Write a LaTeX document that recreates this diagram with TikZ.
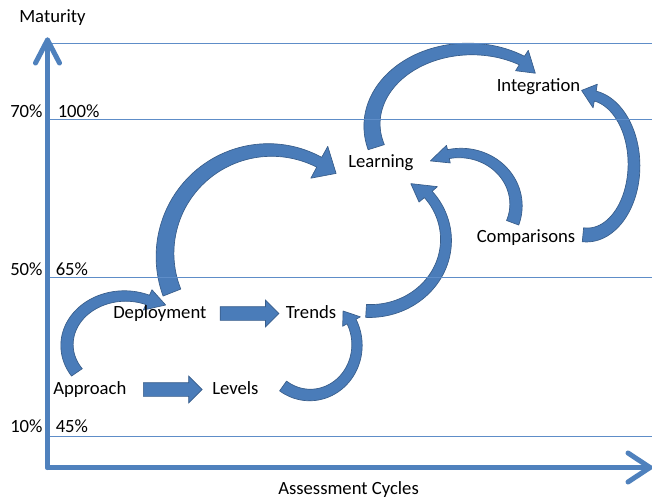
\documentclass[tikz,border=0pt]{standalone}
\usepackage{fontspec}
\setmainfont{Carlito}
\usetikzlibrary{shapes.arrows}
\definecolor{acc}{HTML}{4F81BD}
\definecolor{accfill}{HTML}{4A7CB9}
\definecolor{accdark}{HTML}{385D8A}
\definecolor{gridc}{HTML}{5E8DC8}
\pgfkeys{/carr/.is family, /carr,
  cx/.store in=\Ccx, cy/.store in=\Ccy,
  rx/.store in=\Crx, ry/.store in=\Cry,
  a/.store in=\Ca, b/.store in=\Cb,
  wt/.store in=\Cwt, we/.store in=\Cwe,
  hw/.store in=\Chw, d/.store in=\Cd,
  o/.store in=\Co, rot/.store in=\Crot}
\newcommand\curvedarrow[1]{%
  \pgfkeys{/carr, o=0, rot=0, #1}%
  \begin{scope}[shift={(\Ccx,\Ccy)}, rotate=\Crot]
    \filldraw[curvy] plot[domain=0:1, samples=60, variable=\cv]
      ({((\Crx)+((\Cwt)+((\Cwe)-(\Cwt))*\cv)/2)*cos((\Ca)+((\Cb)-(\Ca))*\cv)},
       {((\Cry)+((\Cwt)+((\Cwe)-(\Cwt))*\cv)/2)*sin((\Ca)+((\Cb)-(\Ca))*\cv)})
      -- ({((\Crx)+(\Chw))*cos(\Cb)}, {((\Cry)+(\Chw))*sin(\Cb)})
      -- ({((\Crx)+(\Co))*cos((\Cb)+(\Cd))}, {((\Cry)+(\Co))*sin((\Cb)+(\Cd))})
      -- ({((\Crx)-(\Chw))*cos(\Cb)}, {((\Cry)-(\Chw))*sin(\Cb)})
      -- plot[domain=0:1, samples=60, variable=\cv]
      ({((\Crx)-((\Cwe)+((\Cwt)-(\Cwe))*\cv)/2)*cos((\Cb)+((\Ca)-(\Cb))*\cv)},
       {((\Cry)-((\Cwe)+((\Cwt)-(\Cwe))*\cv)/2)*sin((\Cb)+((\Ca)-(\Cb))*\cv)})
      -- cycle;
  \end{scope}}
\tikzset{
  curvy/.style={fill=accfill, draw=accdark, line width=0.5pt, line join=round},
  axis/.style={draw=acc, line width=3.75pt, line cap=round, line join=round},
  gridline/.style={draw=gridc, line width=0.75pt},
  txt/.style={anchor=base west, inner sep=0pt, text height=9.5pt, text depth=2.8pt, font=\fontsize{14}{17}\selectfont},
  blockarr/.style={single arrow, draw=accdark, fill=accfill, line width=0.5pt,
    minimum height=44pt, minimum width=19.5pt, single arrow head extend=4.875pt,
    single arrow head indent=0pt, inner xsep=0pt, inner ysep=4.875pt,
    text height=0pt, text depth=0pt}
}
\begin{document}
\begin{tikzpicture}[x=0.75pt, y=-0.75pt]
\useasboundingbox (0,0) rectangle (652,499);
\fill[white] (0,0) rectangle (652,499);

% curved arrows
\curvedarrow{cx=125, cy=345, rx=58, ry=49, a=146, b=293, wt=13, we=10, hw=11, d=18, o=4}
\curvedarrow{cx=270, cy=255, rx=105, ry=105, a=159, b=298, wt=19, we=11, hw=18, d=11, o=0}
\curvedarrow{cx=310, cy=345, rx=47, ry=50, a=125, b=-28, wt=12, we=10, hw=10, d=-16, o=-1}
\curvedarrow{cx=370, cy=240, rx=76, ry=71, a=93, b=-40, wt=13, we=10, hw=12, d=-16, o=-3}
\curvedarrow{cx=470, cy=125, rx=98, ry=76, a=163, b=302, wt=17, we=10, hw=12, d=12, o=-4}
\curvedarrow{cx=460, cy=205, rx=56, ry=52, a=20, b=-102, wt=13, we=9, hw=9, d=-20, o=0}
\curvedarrow{cx=587, cy=165, rx=47, ry=70, a=95, b=-80, wt=14, we=10, hw=12, d=-16, o=5}

% grid lines
\foreach \yy in {44,120,277.5,436} \draw[gridline] (50,\yy) -- (652,\yy);

% axes
\coordinate (Ytip) at (47.5,40);
\coordinate (Xtip) at (650,467.5);
\coordinate (O) at (47.5,467.5);
\draw[axis] (O) -- (Ytip);
\draw[axis] (O) -- (Xtip);
\draw[axis] (Ytip) ++(-12,23) -- (Ytip) -- ++(12,23);
\draw[axis] (Xtip) ++(-22,-14.5) -- (Xtip) -- ++(-22,14.5);

% labels
\node[txt] (mat) at (19,22.7) {Maturity};
\node[txt] (p70) at (10,117.3) {70\%};
\node[txt] (p100) at (57.5,117.3) {100\%};
\node[txt] (p50) at (10,275) {50\%};
\node[txt] (p65) at (55.5,275) {65\%};
\node[txt] (p10) at (10,432.7) {10\%};
\node[txt] (p45) at (55.5,432.7) {45\%};
\node[txt] (xlab) at (278,494) {Assessment Cycles};

% stage nodes
\node[txt] (approach) at (53,394) {Approach};
\node[txt] (levels) at (212,394) {Levels};
\node[txt] (deploy) at (113,318) {Deployment};
\node[txt] (trends) at (285.5,318) {Trends};
\node[txt] (learning) at (348,167) {Learning};
\node[txt] (integ) at (496.5,92) {Integration};
\node[txt] (compar) at (476.5,242) {Comparisons};

% straight block arrows
\path (approach.east) -- node[blockarr] {} (levels.west);
\path (deploy.east) -- node[blockarr] {} (trends.west);
\end{tikzpicture}
\end{document}
